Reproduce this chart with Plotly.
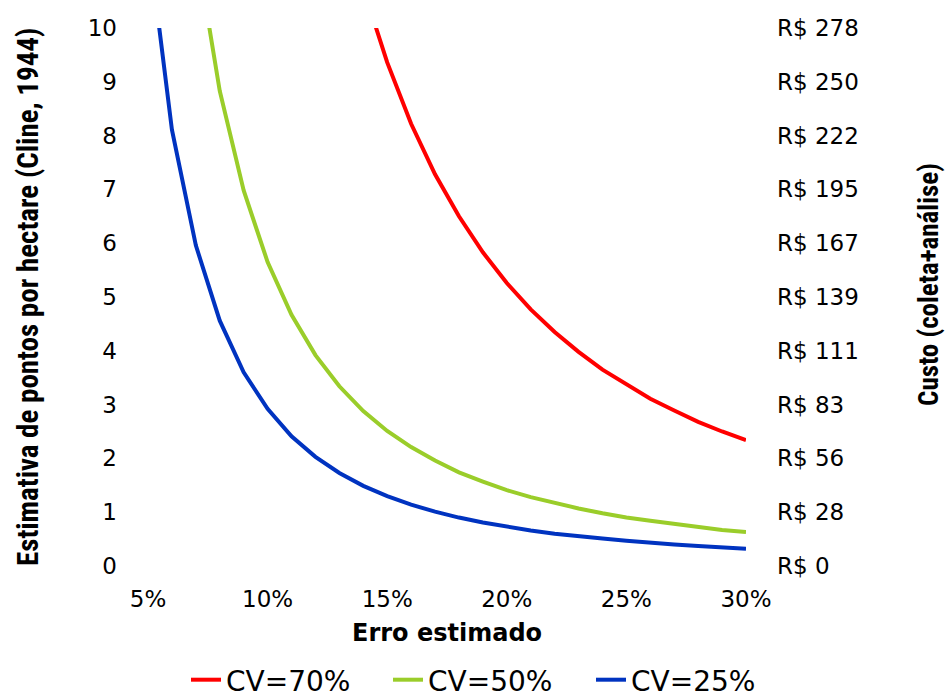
import plotly.graph_objects as go

# ------ Data ------
erro = [5, 6, 7, 8, 9, 10, 11, 12, 13, 14, 15, 16, 17, 18, 19, 20,
        21, 22, 23, 24, 25, 26, 27, 28, 29, 30]   # % error

cv25 = [11.68, 8.11, 5.96, 4.56, 3.60, 2.92, 2.41, 2.03, 1.73, 1.49, 1.30, 1.14, 1.01,
        0.90, 0.81, 0.73, 0.66, 0.60, 0.55, 0.51, 0.47, 0.43, 0.40, 0.37, 0.35, 0.32]
cv50 = [None, None, 11.53, 8.83, 6.98, 5.65, 4.67, 3.92, 3.34, 2.88, 2.51, 2.21, 1.96,
        1.74, 1.57, 1.41, 1.28, 1.17, 1.07, 0.98, 0.90, 0.84, 0.78, 0.72, 0.67, 0.63]
cv70 = [None, None, None, None, None, None, None, None, None, 10.74, 9.36, 8.22, 7.28,
        6.50, 5.83, 5.26, 4.77, 4.35, 3.98, 3.65, 3.37, 3.11, 2.89, 2.68, 2.50, 2.34]

y_ticks = [0, 1, 2, 3, 4, 5, 6, 7, 8, 9, 10]
custo = [0, 28, 56, 83, 111, 139, 167, 195, 222, 250, 278]   # R$ on right axis
x_ticks = [5, 10, 15, 20, 25, 30]

series = [("CV=70%", cv70, "#FF0000"),
          ("CV=50%", cv50, "#9ACD2A"),
          ("CV=25%", cv25, "#0033C0")]

TICK = dict(family="DejaVu Sans", size=23, color="black")
TITLE_FAM = "Liberation Sans Narrow, Roboto Condensed, Arial Narrow, sans-serif"
LEG_FONT = dict(family="DejaVu Sans", size=28, color="black")

# ------ Graph ------
fig = go.Figure()
# one legend per series so the three entries sit on one row like the original
legend_ids = ["legend", "legend2", "legend3"]
legend_x = [186, 388, 591]   # px from left edge of the page

for (name, vals, col), lg in zip(series, legend_ids):
    fig.add_trace(go.Scatter(x=erro, y=vals, name=name, mode="lines", legend=lg,
                             line=dict(color=col, width=4), connectgaps=False))

# empty trace so the secondary (cost) axis is drawn
fig.add_trace(go.Scatter(x=[], y=[], yaxis="y2", showlegend=False, hoverinfo="skip"))

fig.update_xaxes(range=[5, 30], tickvals=x_ticks, ticktext=[f"{v}%" for v in x_ticks],
                 showgrid=False, zeroline=False, showline=False, automargin=False,
                 tickfont=TICK, ticklabelstandoff=17)
fig.update_yaxes(range=[0, 10], tickvals=y_ticks, showgrid=False, zeroline=False,
                 showline=False, automargin=False, tickfont=TICK, ticklabelstandoff=30)

fig.update_layout(
    yaxis2=dict(overlaying="y", side="right", range=[0, 278], tickvals=custo,
                ticktext=[f"R$ {v}" for v in custo], showgrid=False, zeroline=False,
                showline=False, automargin=False, tickfont=TICK, ticklabelstandoff=30),
    width=946, height=697, autosize=False,
    margin=dict(l=148, r=200, t=28, b=131, autoexpand=False),
    plot_bgcolor="white", paper_bgcolor="white",
    showlegend=True,
)
for lg, lx in zip(legend_ids, legend_x):
    fig.update_layout({lg: dict(orientation="h", xref="container", yref="container",
                                x=lx / 946, y=17 / 697, xanchor="left", yanchor="middle",
                                itemwidth=30, bgcolor="rgba(0,0,0,0)", font=LEG_FONT)})

# ------ Axis titles ------
fig.add_annotation(text="Estimativa de pontos por hectare (Cline, 1944)", textangle=-90,
                   xref="paper", yref="paper", x=(28 - 148) / 598, y=0.5,
                   xanchor="center", yanchor="middle", showarrow=False,
                   font=dict(family=TITLE_FAM, size=29, color="black", weight="bold"))
fig.add_annotation(text="Custo (coleta+análise)", textangle=-90,
                   xref="paper", yref="paper", x=(929 - 148) / 598, y=(566 - 285) / 538,
                   xanchor="center", yanchor="middle", showarrow=False,
                   font=dict(family=TITLE_FAM, size=27, color="black", weight="bold"))
fig.add_annotation(text="<b>Erro estimado</b>", xref="paper", yref="paper",
                   x=0.5, y=(566 - 633) / 538, xanchor="center", yanchor="middle",
                   showarrow=False,
                   font=dict(family="DejaVu Sans", size=24, color="black"))

# page body has an 8px default margin; drop it so the figure fills the window
fig.write_html("out.html", config={"displayModeBar": False},
               post_script="document.body.style.margin='0';document.body.style.overflow='hidden';")
